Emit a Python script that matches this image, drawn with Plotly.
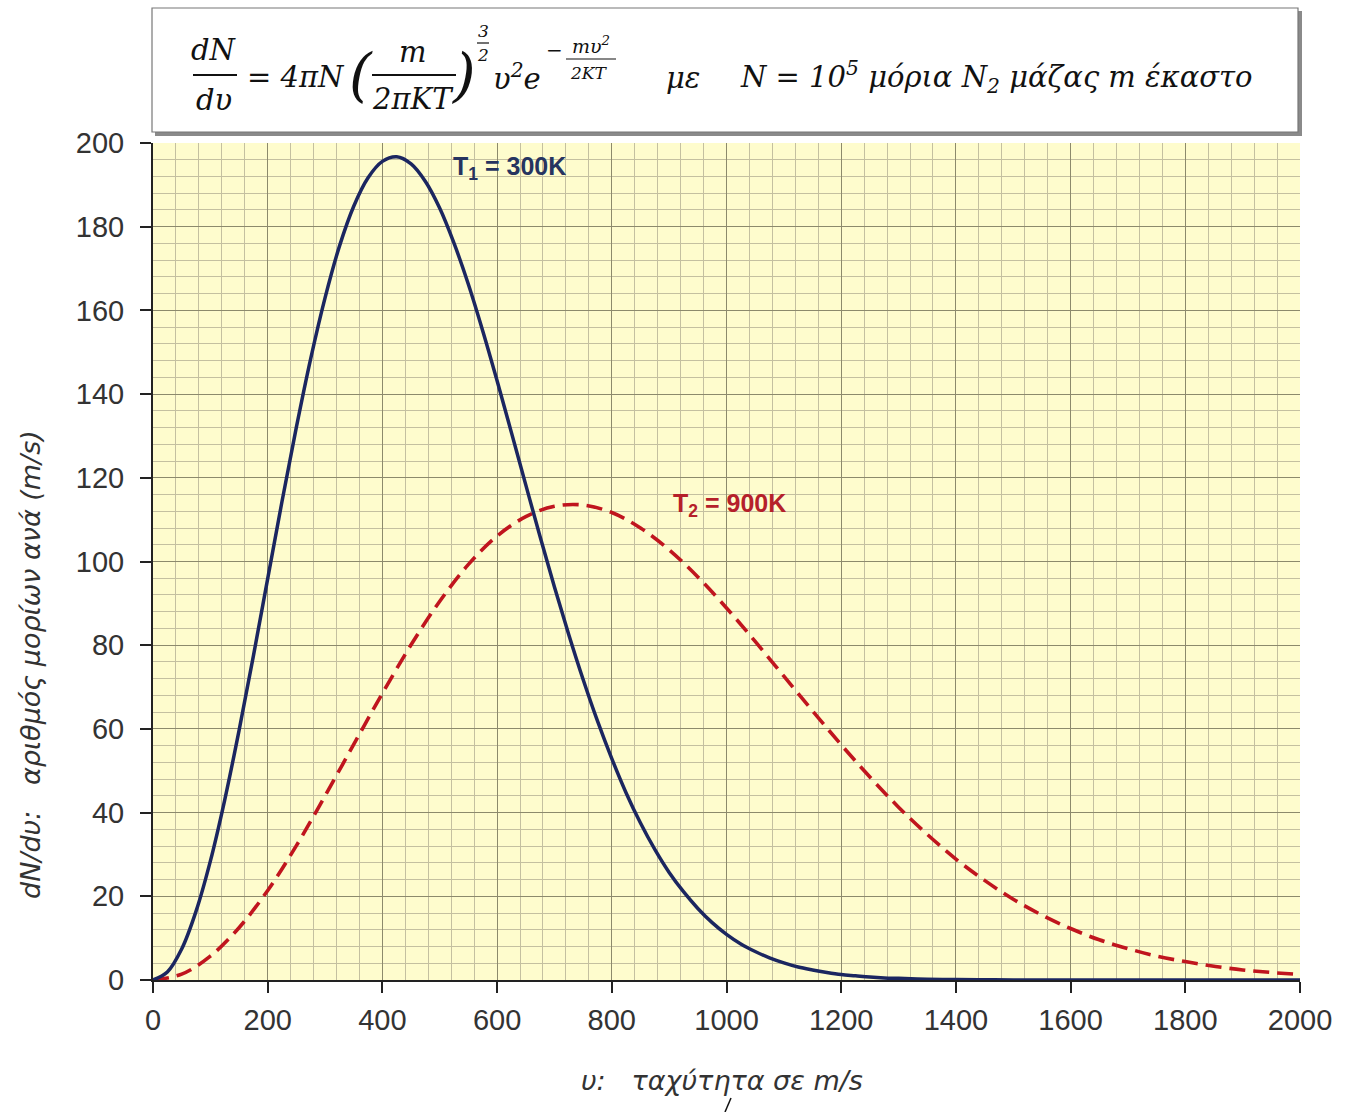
import plotly.graph_objects as go

# ---- data ----
speed_300K = [0, 25, 50, 75, 100, 125, 150, 175, 200, 225, 250, 275, 300, 325, 350, 375,
              400, 425, 450, 475, 500, 525, 550, 575, 600, 625, 650, 675, 700, 725, 750,
              775, 800, 825, 850, 875, 900, 925, 950, 975, 1000, 1025, 1050, 1075, 1100,
              1125, 1150, 1175, 1200, 1225, 1250, 1275, 1300, 1350, 1400, 1450, 1500,
              1600, 1800, 2000]
dn_300K = [0, 1.9, 7.4, 16.4, 28.4, 43.0, 59.6, 77.4, 95.9, 114.4, 132.1, 148.5, 163.0,
           175.3, 184.9, 191.7, 195.6, 196.7, 195.0, 190.8, 184.4, 176.0, 166.2, 155.1,
           143.2, 130.8, 118.3, 105.9, 93.9, 82.5, 71.8, 61.9, 52.9, 44.7, 37.5, 31.2,
           25.7, 21.1, 17.1, 13.7, 10.9, 8.6, 6.8, 5.3, 4.1, 3.1, 2.4, 1.8, 1.3, 1.0, 0.7,
           0.5, 0.4, 0.2, 0.1, 0.05, 0.02, 0, 0, 0]
speed_900K = [0, 50, 100, 150, 200, 250, 300, 350, 400, 450, 500, 550, 600, 650, 700,
              750, 800, 850, 900, 950, 1000, 1050, 1100, 1150, 1200, 1250, 1300, 1350, 1400,
              1450, 1500, 1550, 1600, 1650, 1700, 1750, 1800, 1850, 1900, 1950, 2000]
dn_900K = [0, 1.4, 5.7, 12.5, 21.4, 32.1, 44.0, 56.3, 68.5, 80.1, 90.5, 99.3, 106.1, 110.7,
           113.2, 113.5, 111.7, 108.0, 102.8, 96.3, 88.9, 80.9, 72.6, 64.3, 56.2,
           48.5, 41.3, 34.8, 28.9, 23.8, 19.3, 15.5, 12.3, 9.6, 7.5, 5.7, 4.4, 3.3, 2.4,
           1.8, 1.3]
x_ticks = [0, 200, 400, 600, 800, 1000, 1200, 1400, 1600, 1800, 2000]
y_ticks = [0, 20, 40, 60, 80, 100, 120, 140, 160, 180, 200]
label_1 = "T<sub>1</sub> = 300K"
label_2 = "T<sub>2</sub> = 900K"
NB = "\u00a0"
x_title = "υ:" + NB * 3 + "ταχύτητα σε m/s"
y_title = "dN/dυ:" + NB * 3 + "αριθμός μορίων ανά (m/s)"

W, H = 1355, 1112
L, R, T, B = 153, 1300, 143, 980


def px(x):
    return (x - L) / (R - L)


def py(y):
    return (B - y) / (B - T)


fig = go.Figure()
fig.add_trace(go.Scatter(x=speed_900K, y=dn_900K, mode="lines", line_shape="spline",
                         line=dict(color="#C0151E", width=3.6, dash="16px,8px"),
                         showlegend=False))
fig.add_trace(go.Scatter(x=speed_300K, y=dn_300K, mode="lines", line_shape="spline",
                         line=dict(color="#1B2660", width=3.5), showlegend=False))

tickfont = dict(family="Liberation Sans, Arial", size=29, color="#333333")
axis_common = dict(ticks="outside", ticklen=11, tickcolor="#222", tickwidth=1.5,
                   showline=True, linecolor="#222", linewidth=2, showgrid=True,
                   gridcolor="#8C8A6C", gridwidth=1.2, zeroline=False, tickfont=tickfont)
fig.update_layout(
    width=W, height=H, autosize=False,
    margin=dict(l=L, r=W - R, t=T, b=H - B),
    paper_bgcolor="white", plot_bgcolor="#FEFCCD",
    xaxis=dict(range=[0, 2000], tickvals=x_ticks, ticklabelstandoff=2,
               minor=dict(dtick=40, tick0=0, showgrid=True, gridcolor="#C4C0A0",
                          gridwidth=1), **axis_common),
    yaxis=dict(range=[0, 200], tickvals=y_ticks, ticklabelstandoff=10,
               minor=dict(dtick=4, tick0=0, showgrid=True, gridcolor="#C4C0A0",
                          gridwidth=1), **axis_common),
)

ann = []
ann.append(dict(x=622, y=194, xref="x", yref="y", text=label_1, showarrow=False,
                font=dict(family="Liberation Sans, Arial", size=25, color="#263460",
                          weight="bold"), xanchor="center", yanchor="middle"))
ann.append(dict(x=1006, y=113.5, xref="x", yref="y", text=label_2, showarrow=False,
                font=dict(family="Liberation Sans, Arial", size=25, color="#B5202A",
                          weight="bold"), xanchor="center", yanchor="middle"))
ann.append(dict(x=px(722), y=py(1080), xref="paper", yref="paper", text=x_title,
                showarrow=False, font=dict(family="DejaVu Sans", size=27,
                                           color="#333", style="italic"),
                xanchor="center", yanchor="middle"))
ann.append(dict(x=px(30), y=py(665), xref="paper", yref="paper", text=y_title,
                textangle=-90, showarrow=False,
                font=dict(family="DejaVu Sans", size=27, color="#333",
                          style="italic"), xanchor="center", yanchor="middle"))

# equation in the box
ef = "DejaVu Serif"


def eq(xp, yp, text, size=29, anchor="center"):
    ann.append(dict(x=px(xp), y=py(yp), xref="paper", yref="paper", text=text,
                    showarrow=False, xanchor=anchor, yanchor="middle",
                    font=dict(family=ef, size=size, color="#111", style="italic")))


eq(214, 50, "dN")
eq(214, 100, "dυ")
eq(245, 77, "= 4πN", anchor="left")
eq(361, 75, "(", size=58)
eq(413, 52, "m")
eq(413, 99, "2πKT")
eq(463, 75, ")", size=58)
eq(483, 31, "3", size=17)
eq(483, 55, "2", size=17)
eq(491, 77, "υ<sup>2</sup>e", anchor="left")
eq(554, 50, "−", size=20)
eq(591, 45, "mυ<sup>2</sup>", size=19)
eq(589, 73, "2KT", size=17)
eq(683, 78, "με")
eq(738, 77, "N = 10<sup>5</sup> μόρια N<sub>2</sub> μάζας m έκαστο", anchor="left")

shapes = []
# box shadow and box
shapes.append(dict(type="rect", xref="paper", yref="paper", x0=px(155), x1=px(1302),
                   y0=py(136), y1=py(11), fillcolor="#8a8a8a", line=dict(width=0),
                   layer="below"))
shapes.append(dict(type="rect", xref="paper", yref="paper", x0=px(152), x1=px(1298),
                   y0=py(132), y1=py(8), fillcolor="white",
                   line=dict(color="#777", width=1.2), layer="below"))


def bar(x0, x1, y, w=2):
    shapes.append(dict(type="line", xref="paper", yref="paper", x0=px(x0), x1=px(x1),
                       y0=py(y), y1=py(y), line=dict(color="#111", width=w)))


bar(193, 237, 75, 2.2)
bar(372, 456, 75, 2.2)
bar(477, 489, 43, 1.2)
bar(566, 616, 59, 1.2)
# cut-off accent stroke at the bottom edge
shapes.append(dict(type="line", xref="paper", yref="paper", x0=px(725), x1=px(731),
                   y0=py(1112), y1=py(1098), line=dict(color="#111", width=1.5)))

fig.update_layout(annotations=ann, shapes=shapes)
fig.write_html("out.html", config={"displayModeBar": False},
               post_script="document.body.style.margin='0';document.body.style.overflow='hidden';")
